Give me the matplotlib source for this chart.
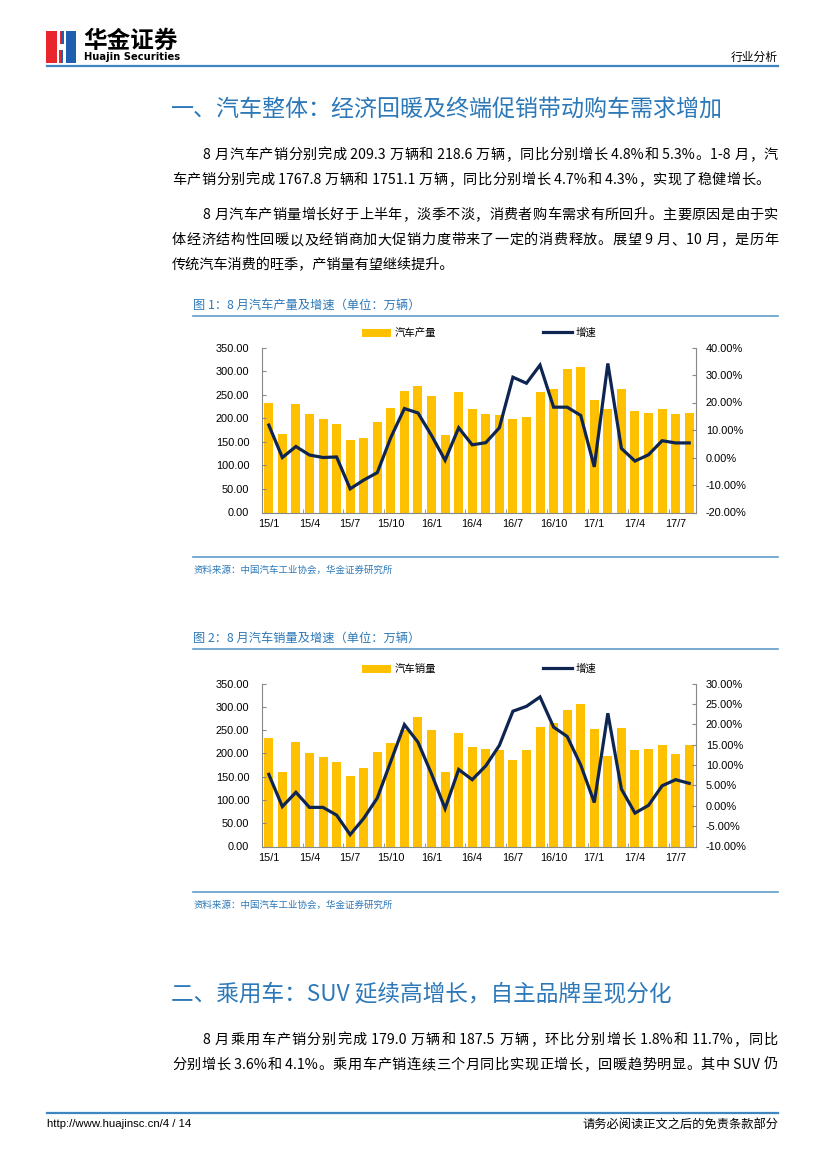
import matplotlib
matplotlib.use("Agg")
import matplotlib.pyplot as plt
from matplotlib.patches import Rectangle, Polygon
from matplotlib.lines import Line2D
from matplotlib.ticker import FuncFormatter, MultipleLocator, FixedLocator
import numpy as np

plt.rcParams['font.family'] = ['Noto Sans CJK SC', 'DejaVu Sans']

# ---------------- data ----------------
months = ["15/1", "15/2", "15/3", "15/4", "15/5", "15/6", "15/7", "15/8", "15/9", "15/10", "15/11", "15/12",
          "16/1", "16/2", "16/3", "16/4", "16/5", "16/6", "16/7", "16/8", "16/9", "16/10", "16/11", "16/12",
          "17/1", "17/2", "17/3", "17/4", "17/5", "17/6", "17/7", "17/8"]

production = [232, 166, 231, 210, 199, 187, 154, 159, 192, 221, 258, 268,
              248, 164, 255, 220, 209, 207, 199, 202, 256, 262, 304, 309,
              239, 219, 263, 216, 212, 219, 209, 211]
production_growth = [11.8, 0.0, 4.0, 0.9, 0.0, 0.2, -11.4, -8.2, -5.5, 7.3, 17.8, 16.2,
                     8.0, -1.0, 10.8, 4.6, 5.4, 10.8, 29.2, 27.0, 33.6, 18.3, 18.3, 15.3,
                     -3.4, 34.2, 3.3, -1.3, 1.0, 6.1, 5.3, 5.3]

sales = [233, 161, 225, 201, 192, 182, 152, 168, 203, 222, 251, 279,
         251, 160, 244, 213, 209, 208, 186, 208, 257, 265, 294, 306,
         252, 194, 254, 208, 210, 218, 198, 219]
sales_growth = [7.7, -0.2, 3.3, -0.4, -0.4, -2.3, -7.1, -3.1, 1.9, 10.9, 19.9, 15.6,
                7.8, -0.7, 8.9, 6.4, 9.8, 14.8, 23.2, 24.4, 26.7, 19.3, 17.0, 10.0,
                0.8, 22.7, 4.1, -1.8, 0.1, 4.9, 6.4, 5.5]

W, H = 827, 1169
BLUE_T = "#2C78B8"
LINE_B = "#5E9CCB"
BAR_C = "#FFC000"
LINE_C = "#0E2552"

fig = plt.figure(figsize=(W / 100, H / 100), dpi=100)
renderer = fig.canvas.get_renderer()


def P(x, y):
    return x / W, 1 - y / H


def txt(x, y, s, size, color="black", ha="left", weight="normal", family=None, style="normal"):
    kw = {}
    if family is not None:
        kw["family"] = family
    return fig.text(*P(x, y), s, fontsize=size, color=color, ha=ha, va="center",
                    fontweight=weight, style=style, **kw)


def tokens(s):
    out, buf = [], ""
    for ch in s:
        if ord(ch) < 128:
            buf += ch
        else:
            if buf:
                out.append(buf)
                buf = ""
            out.append(ch)
    if buf:
        out.append(buf)
    return out


def justified(x0, x1, y, s, size):
    toks = tokens(s)
    objs = [txt(0, y, t, size) for t in toks]
    widths = [o.get_window_extent(renderer).width for o in objs]
    total = sum(widths)
    gap = (x1 - x0 - total) / max(len(toks) - 1, 1)
    x = x0
    for o, w in zip(objs, widths):
        o.set_x(x / W)
        x += w + gap


def hline(x0, x1, y, color=LINE_B, lw=1.2):
    fig.add_artist(Line2D([x0 / W, x1 / W], [1 - y / H, 1 - y / H], color=color, lw=lw,
                          transform=fig.transFigure))


# ---------------- header ----------------
fig.add_artist(Rectangle(P(46, 63), 15 / W, 32 / H, transform=fig.transFigure, color="#E8262B", lw=0))
fig.add_artist(Rectangle(P(61, 63), 15 / W, 32 / H, transform=fig.transFigure, color="#1F5FAF", lw=0))
zig = [(57, 31), (60, 31), (60, 44), (64, 44), (64, 31), (66, 31), (66, 63), (63, 63), (63, 50),
       (59, 50), (59, 63), (57, 63)]
fig.add_artist(Polygon([P(a, b) for a, b in zig], closed=True, transform=fig.transFigure,
                       color="white", lw=0))
txt(83, 41, "华金证券", 17, weight="bold")
txt(84, 57, "Huajin Securities", 7.2, weight="bold", family=["DejaVu Sans"])
txt(778, 57, "行业分析", 8.5, ha="right")
hline(47, 778, 66, color="#3F86C0", lw=1.6)

# ---------------- section 1 ----------------
txt(171, 110, "一、汽车整体：经济回暖及终端促销带动购车需求增加", 16.6, color=BLUE_T)
body1 = [
    (203, 778, 155, "8 月汽车产销分别完成 209.3 万辆和 218.6 万辆，同比分别增长 4.8%和 5.3%。1-8 月，汽"),
    (172, 770, 180, "车产销分别完成 1767.8 万辆和 1751.1 万辆，同比分别增长 4.7%和 4.3%，实现了稳健增长。"),
    (203, 778, 215, "8 月汽车产销量增长好于上半年，淡季不淡，消费者购车需求有所回升。主要原因是由于实"),
    (172, 778, 240, "体经济结构性回暖以及经销商加大促销力度带来了一定的消费释放。展望 9 月、10 月，是历年"),
    (172, None, 265, "传统汽车消费的旺季，产销量有望继续提升。"),
]
for x0, x1, y, s in body1:
    if x1 is None:
        txt(x0, y, s, 10.2)
    else:
        justified(x0, x1, y, s, 10.2)


def chart(top, bottom, cap_y, cap, bars, growth, bar_label, ylim2, src_line_y, legend_y):
    txt(193, cap_y, cap, 8.8, color=BLUE_T)
    hline(193, 778, cap_y + 11)
    ax = fig.add_axes([262 / W, 1 - bottom / H, (696 - 262) / W, (bottom - top) / H])
    x = np.arange(len(months))
    ax.bar(x, bars, width=0.66, color=BAR_C, zorder=1, label=bar_label)
    ax.set_xlim(-0.5, len(months) - 0.5)
    ax.set_ylim(0, 350)
    ax.yaxis.set_major_locator(MultipleLocator(50))
    ax.yaxis.set_major_formatter(FuncFormatter(lambda v, p: f"{v:.2f}"))
    ax.set_xticks(x[::3])
    ax.set_xticklabels(months[::3])
    ax.xaxis.set_minor_locator(FixedLocator(np.arange(-0.5, len(months), 3)))
    ax.tick_params(axis="x", which="major", length=0, pad=5, labelsize=7.8, labelfontfamily="Liberation Sans")
    ax.tick_params(axis="x", which="minor", length=3, direction="in", color="#888888")
    ax.tick_params(axis="y", length=3, direction="in", color="#888888", labelsize=7.9,
                   pad=9, labelfontfamily="Liberation Sans")
    for s in ["top", "right"]:
        ax.spines[s].set_visible(False)
    for s in ["left", "bottom"]:
        ax.spines[s].set_color("#888888")
        ax.spines[s].set_linewidth(0.8)
    ax2 = ax.twinx()
    ax2.plot(x, growth, color=LINE_C, lw=2.3, zorder=3, label="增速", solid_joinstyle="miter")
    ax2.set_ylim(*ylim2)
    step = 10 if ylim2[1] - ylim2[0] > 50 else 5
    ax2.yaxis.set_major_locator(MultipleLocator(step))
    ax2.yaxis.set_major_formatter(FuncFormatter(lambda v, p: f"{v:.2f}%" if abs(v) > 1e-9 else "0.00%"))
    ax2.tick_params(axis="y", length=3, direction="in", color="#888888", labelsize=7.9,
                    pad=7, labelfontfamily="Liberation Sans")
    for s in ["top", "left", "bottom"]:
        ax2.spines[s].set_visible(False)
    ax2.spines["right"].set_color("#888888")
    ax2.spines["right"].set_linewidth(0.8)
    h1, l1 = ax.get_legend_handles_labels()
    h2, l2 = ax2.get_legend_handles_labels()
    fig.legend(h1 + h2, l1 + l2, loc="center left", bbox_to_anchor=P(362, legend_y), ncol=2,
               frameon=False, fontsize=7.5, handlelength=2.8, handleheight=0.8, handletextpad=0.3,
               columnspacing=10.3, borderpad=0, borderaxespad=0)
    hline(193, 778, src_line_y)
    txt(193, src_line_y + 13, "资料来源：中国汽车工业协会，华金证券研究所", 6.8, color=BLUE_T, style="italic")


chart(347.5, 512.5, 305, "图 1：8 月汽车产量及增速（单位：万辆）", production, production_growth,
      "汽车产量", (-20, 40), 557, 333)
chart(683.5, 846.5, 638, "图 2：8 月汽车销量及增速（单位：万辆）", sales, sales_growth,
      "汽车销量", (-10, 30), 892, 669)

# ---------------- section 2 ----------------
txt(171, 995, "二、乘用车：SUV 延续高增长，自主品牌呈现分化", 16.3, color=BLUE_T)
body2 = [
    (203, 778, 1040, "8 月乘用车产销分别完成 179.0 万辆和 187.5 万辆，环比分别增长 1.8%和 11.7%，同比"),
    (172, 778, 1065, "分别增长 3.6%和 4.1%。乘用车产销连续三个月同比实现正增长，回暖趋势明显。其中 SUV 仍"),
]
for x0, x1, y, s in body2:
    justified(x0, x1, y, s, 10.2)

# ---------------- footer ----------------
hline(47, 778, 1113, color="#3F86C0", lw=1.6)
txt(47, 1124, "http://www.huajinsc.cn/4 / 14", 8.2, family=["Liberation Sans"])
txt(778, 1124, "请务必阅读正文之后的免责条款部分", 8.8, ha="right")

fig.savefig("out.png", dpi=100)
